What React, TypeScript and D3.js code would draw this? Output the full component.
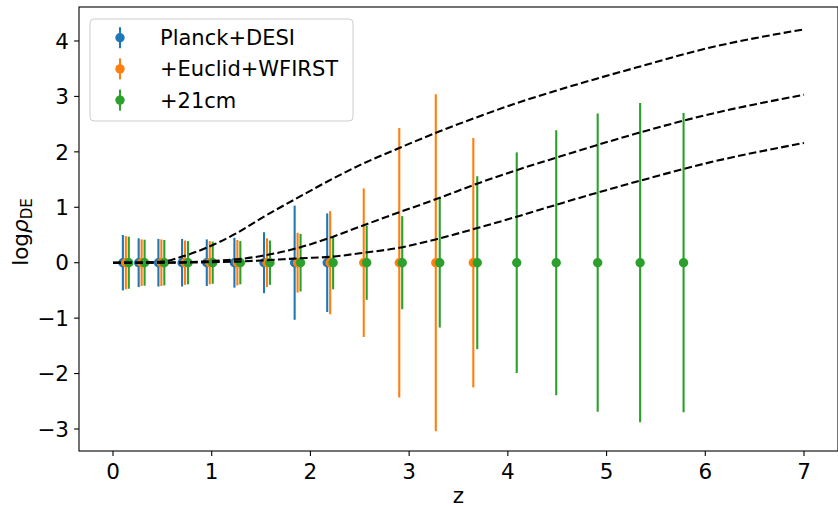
import React from "react";
import * as d3 from "d3";

// ---- data ----
const seriesNames = ["Planck+DESI", "+Euclid+WFIRST", "+21cm"];
const seriesColors = ["#1f77b4", "#ff7f0e", "#2ca02c"];

const zBlue = [0.1, 0.26, 0.46, 0.7, 0.95, 1.23, 1.53, 1.84, 2.17];
const errBlue = [0.5, 0.44, 0.43, 0.43, 0.42, 0.45, 0.55, 1.03, 0.89];

const zOrange = [0.13, 0.29, 0.49, 0.73, 0.98, 1.26, 1.56, 1.87, 2.2, 2.54, 2.9, 3.27, 3.65];
const errOrange = [0.48, 0.42, 0.42, 0.4, 0.39, 0.41, 0.44, 0.54, 0.93, 1.34, 2.43, 3.04, 2.25];

const zGreen = [0.16, 0.32, 0.52, 0.76, 1.01, 1.29, 1.59, 1.9, 2.23, 2.57, 2.93, 3.31, 3.69, 4.09, 4.49, 4.91, 5.34, 5.78];
const errGreen = [0.47, 0.415, 0.41, 0.39, 0.38, 0.39, 0.4, 0.52, 0.48, 0.67, 0.84, 1.17, 1.56, 1.99, 2.39, 2.69, 2.88, 2.7];

const curveZ = [0, 0.25, 0.5, 0.7, 1.0, 1.25, 1.5, 1.9, 2.23, 2.5, 2.9, 3.31, 3.68, 4.09, 4.5, 4.9, 5.3, 6, 7];
const curveTop = [0, 0.005, 0.02, 0.11, 0.31, 0.53, 0.8, 1.2, 1.52, 1.76, 2.07, 2.37, 2.62, 2.88, 3.11, 3.32, 3.52, 3.86, 4.21];
const curveMid = [0, 0, 0.003, 0.008, 0.03, 0.06, 0.12, 0.28, 0.47, 0.65, 0.91, 1.17, 1.42, 1.67, 1.9, 2.12, 2.33, 2.66, 3.03];
const curveLow = [0, 0, 0, 0.002, 0.01, 0.02, 0.04, 0.08, 0.11, 0.17, 0.27, 0.44, 0.62, 0.83, 1.05, 1.26, 1.46, 1.79, 2.16];

const xTicks = [0, 1, 2, 3, 4, 5, 6, 7];
const yTicks = [-3, -2, -1, 0, 1, 2, 3, 4];

const W = 838;
const H = 507;
const FONT = "DejaVu Sans, sans-serif";
const FS = 21.5;
const LFS = 21;

export default function App() {
  const x = d3.scaleLinear().domain([-0.3444, 7.3444]).range([79, 838]);
  const y = d3.scaleLinear().domain([-3.397, 4.613]).range([451, 7]);

  const series = [
    { z: zBlue, e: errBlue },
    { z: zOrange, e: errOrange },
    { z: zGreen, e: errGreen },
  ];

  const line = d3
    .line<[number, number]>()
    .x((d) => x(d[0]))
    .y((d) => y(d[1]))
    .curve(d3.curveMonotoneX);

  const curves = [curveTop, curveMid, curveLow].map((vals) =>
    line(curveZ.map((z, i) => [z, vals[i]] as [number, number]))
  );

  const left = 79, right = 838, top = 7, bottom = 451;

  return (
    <svg
      width={W}
      height={H}
      style={{ position: "absolute", left: 0, top: 0, background: "#fff" }}
      fontFamily={FONT}
    >
      <rect x={0} y={0} width={W} height={H} fill="#fff" />
      {/* error bars */}
      {series.map((s, si) => (
        <g key={si}>
          {s.z.map((z, i) => (
            <g key={i}>
              <line
                x1={x(z)}
                x2={x(z)}
                y1={y(-s.e[i])}
                y2={y(s.e[i])}
                stroke={seriesColors[si]}
                strokeWidth={2.1}
              />
              <circle cx={x(z)} cy={y(0)} r={4.7} fill={seriesColors[si]} />
            </g>
          ))}
        </g>
      ))}
      {/* dashed curves */}
      {curves.map((d, i) => (
        <path key={i} d={d || ""} fill="none" stroke="#000" strokeWidth={2.1} strokeDasharray="7.7,3.3" />
      ))}
      {/* spines */}
      <rect x={left} y={top} width={right - left} height={bottom - top} fill="none" stroke="#000" strokeWidth={1.1} />
      {/* x ticks */}
      {xTicks.map((t) => (
        <g key={t}>
          <line x1={x(t)} x2={x(t)} y1={bottom} y2={bottom + 4.9} stroke="#000" strokeWidth={1.1} />
          <text x={x(t)} y={479} textAnchor="middle" fontSize={FS} fill="#000">
            {t}
          </text>
        </g>
      ))}
      {/* y ticks */}
      {yTicks.map((t) => (
        <g key={t}>
          <line x1={left - 4.9} x2={left} y1={y(t)} y2={y(t)} stroke="#000" strokeWidth={1.1} />
          <text x={69} y={y(t)} dy="0.36em" textAnchor="end" fontSize={FS} fill="#000">
            {t < 0 ? "\u2212" + Math.abs(t) : t}
          </text>
        </g>
      ))}
      {/* axis labels */}
      <text x={(left + right) / 2} y={503} textAnchor="middle" fontSize={FS} fill="#000">
        z
      </text>
      <text transform={`translate(28,${232}) rotate(-90)`} textAnchor="middle" fontSize={FS} fill="#000">
        log
        <tspan fontStyle="italic">ρ</tspan>
        <tspan fontSize={FS * 0.7} dy="4">DE</tspan>
      </text>
      {/* legend */}
      <rect x={90} y={19} width={263} height={102} rx={4} fill="#fff" fillOpacity={0.8} stroke="#cccccc" strokeWidth={1} />
      {seriesNames.map((n, i) => {
        const cy = 37.7 + i * 31.2;
        return (
          <g key={n}>
            <line x1={120} x2={120} y1={cy - 10.5} y2={cy + 10.5} stroke={seriesColors[i]} strokeWidth={2.1} />
            <circle cx={120} cy={cy} r={4.7} fill={seriesColors[i]} />
            <text x={160} y={cy} dy="0.36em" fontSize={LFS} fill="#000">
              {n}
            </text>
          </g>
        );
      })}
    </svg>
  );
}
